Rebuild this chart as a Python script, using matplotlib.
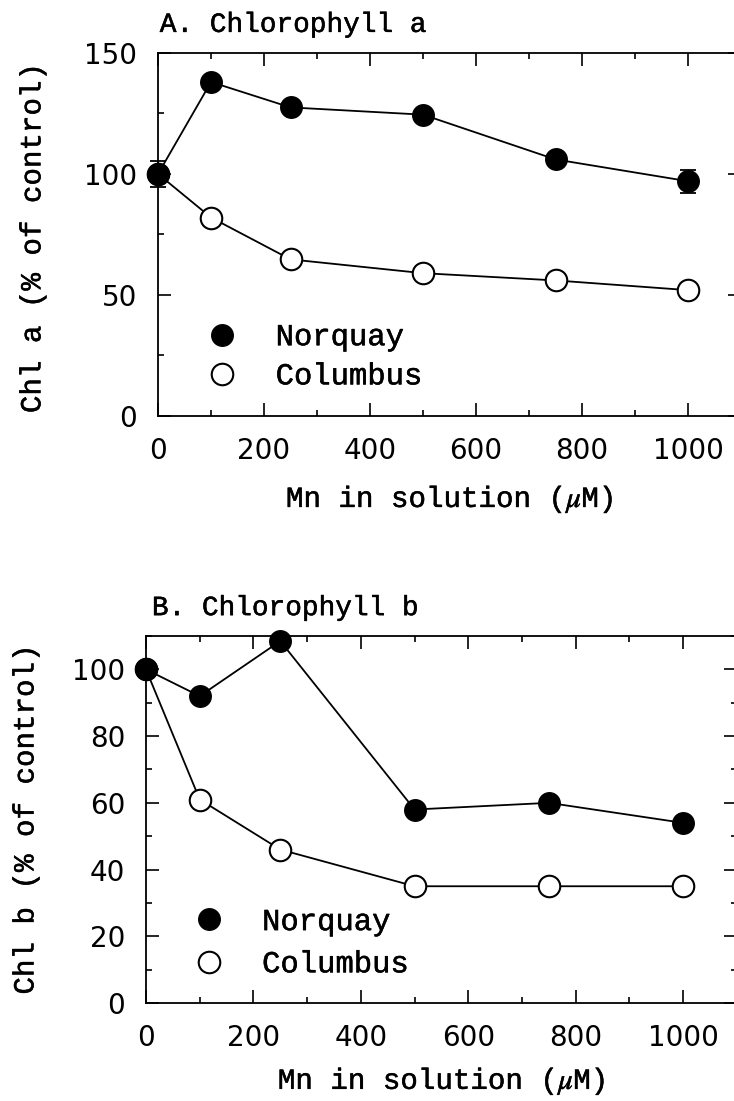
import numpy as np
import matplotlib
matplotlib.use("Agg")
import matplotlib.pyplot as plt
import matplotlib.patheffects as pe
from matplotlib.ticker import MultipleLocator

# Mn concentration in the nutrient solution (uM)
mn = [0, 100, 250, 500, 750, 1000]

# Chlorophyll a, % of control
chla_norquay = [100, 138, 127.5, 124.5, 106, 97]
chla_norquay_err = [5.5, 2, 2, 2, 2, 4.8]
chla_columbus = [100, 82, 64.7, 59, 56, 52]

# Chlorophyll b, % of control
chlb_norquay = [100, 92, 108.5, 58, 60, 54]
chlb_columbus = [100, 61, 46, 35, 35, 35]

MONO = "Liberation Mono"
TICKFONT = "DejaVu Sans"
plt.rcParams["mathtext.fontset"] = "stix"

# slightly heavier strokes for the typewriter-style labels
heavy = [pe.withStroke(linewidth=0.35, foreground="black")]


def style_axes(ax, ymajor, yminor):
    ax.set_xlim(0, 1100)
    ax.xaxis.set_major_locator(MultipleLocator(200))
    ax.xaxis.set_minor_locator(MultipleLocator(100))
    ax.yaxis.set_major_locator(MultipleLocator(ymajor))
    ax.yaxis.set_minor_locator(MultipleLocator(yminor))
    ax.tick_params(which="both", direction="in", top=True, right=True,
                   width=1.2, pad=15, labelsize=20)
    ax.tick_params(which="major", length=9.5)
    ax.tick_params(which="minor", length=4.5)
    for lab in ax.get_xticklabels() + ax.get_yticklabels():
        lab.set_fontfamily(TICKFONT)
    for sp in ax.spines.values():
        sp.set_linewidth(1.3)


def draw_series(ax, norquay, columbus, err=None):
    ax.plot(mn, columbus, "-o", color="black", lw=1.3, ms=15.5,
            mfc="white", mec="black", mew=1.5, label="Columbus",
            zorder=3, clip_on=False)
    if err is not None:
        ax.errorbar(mn, norquay, yerr=err, fmt="none", ecolor="black",
                    elinewidth=1.3, capsize=6, capthick=1.3, zorder=4,
                    clip_on=False)
    ax.plot(mn, norquay, "-o", color="black", lw=1.3, ms=15.5,
            mfc="black", mec="black", label="Norquay", zorder=5,
            clip_on=False)
    h, l = ax.get_legend_handles_labels()
    order = [l.index("Norquay"), l.index("Columbus")]
    return [h[i] for i in order], [l[i] for i in order]


def add_legend(ax, handles, labels, anchor, spacing):
    leg = ax.legend(handles, labels, loc="center left", bbox_to_anchor=anchor,
                    frameon=False, handlelength=0, handletextpad=1.75,
                    borderpad=0, borderaxespad=0, labelspacing=spacing,
                    prop={"family": MONO, "size": 22})
    for t in leg.get_texts():
        t.set_path_effects(heavy)


fig = plt.figure(figsize=(7.34, 11.01), dpi=100)

# --- A. Chlorophyll a ---
axa = fig.add_axes([0.2153, 0.6222, 0.7943, 0.3297])
style_axes(axa, 50, 25)
axa.set_ylim(0, 150)
h, l = draw_series(axa, chla_norquay, chla_columbus, chla_norquay_err)
add_legend(axa, h, l, (0.11, 0.163), 0.3)
axa.text(0.003, 1.058, "A. Chlorophyll a", transform=axa.transAxes,
         ha="left", va="baseline", fontsize=20, family=MONO,
         path_effects=heavy)
axa.text(-0.2155, 0.49, "Chl a (% of control)", transform=axa.transAxes,
         rotation=90, ha="center", va="center", fontsize=21, family=MONO,
         path_effects=heavy)
axa.text(0.5, -0.229, r"Mn in solution ($\mu$M)", transform=axa.transAxes,
         ha="center", va="center", fontsize=21, family=MONO,
         path_effects=heavy)

# --- B. Chlorophyll b ---
axb = fig.add_axes([0.1989, 0.0890, 0.805, 0.3333])
style_axes(axb, 20, 10)
axb.set_ylim(0, 110)
h, l = draw_series(axb, chlb_norquay, chlb_columbus)
add_legend(axb, h, l, (0.106, 0.163), 0.4)
axb.text(0.01, 1.057, "B. Chlorophyll b", transform=axb.transAxes,
         ha="left", va="baseline", fontsize=20, family=MONO,
         path_effects=heavy)
axb.text(-0.204, 0.5, "Chl b (% of control)", transform=axb.transAxes,
         rotation=90, ha="center", va="center", fontsize=21, family=MONO,
         path_effects=heavy)
axb.text(0.5, -0.2125, r"Mn in solution ($\mu$M)", transform=axb.transAxes,
         ha="center", va="center", fontsize=21, family=MONO,
         path_effects=heavy)

fig.savefig("out.png", dpi=100)
